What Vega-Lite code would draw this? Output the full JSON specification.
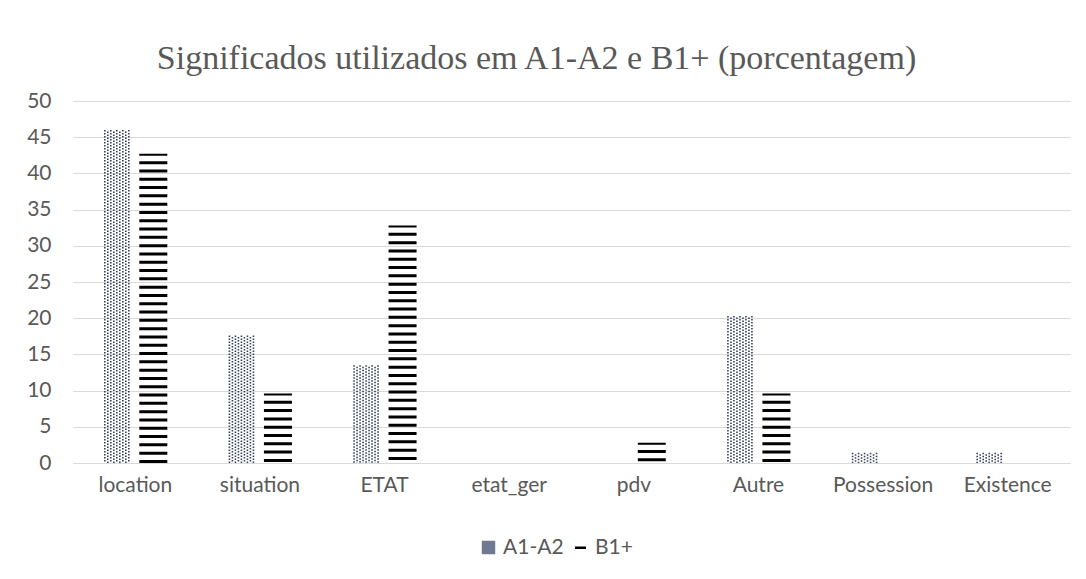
{
  "$schema": "https://vega.github.io/schema/vega-lite/v6.json",
  "autosize": "none",
  "width": 997,
  "height": 362,
  "padding": {"left": 73, "top": 101, "right": 16, "bottom": 116},
  "background": "white",
  "title": {
    "text": "Significados utilizados em A1-A2 e B1+ (porcentagem)",
    "font": "Liberation Serif",
    "fontSize": 34,
    "fontWeight": "normal",
    "color": "#595959",
    "anchor": "middle",
    "offset": 14,
    "dx": -35
  },
  "data": {
    "values": [
      {"cat": "location", "group": "A1-A2", "value": 46},
      {"cat": "location", "group": "B1+", "value": 42.7},
      {"cat": "situation", "group": "A1-A2", "value": 17.6},
      {"cat": "situation", "group": "B1+", "value": 9.6},
      {"cat": "ETAT", "group": "A1-A2", "value": 13.5},
      {"cat": "ETAT", "group": "B1+", "value": 32.8},
      {"cat": "etat_ger", "group": "A1-A2", "value": 0},
      {"cat": "etat_ger", "group": "B1+", "value": 0},
      {"cat": "pdv", "group": "A1-A2", "value": 0},
      {"cat": "pdv", "group": "B1+", "value": 2.8},
      {"cat": "Autre", "group": "A1-A2", "value": 20.3},
      {"cat": "Autre", "group": "B1+", "value": 9.6},
      {"cat": "Possession", "group": "A1-A2", "value": 1.4},
      {"cat": "Possession", "group": "B1+", "value": 0},
      {"cat": "Existence", "group": "A1-A2", "value": 1.4},
      {"cat": "Existence", "group": "B1+", "value": 0}
    ]
  },
  "encoding": {
    "x": {
      "field": "cat", "type": "nominal", "title": null,
      "scale": {"domain": ["location", "situation", "ETAT", "etat_ger", "pdv", "Autre", "Possession", "Existence"], "paddingInner": 0.48, "paddingOuter": 0.24},
      "axis": {"labelAngle": 0, "labelFont": "Lato", "labelFontSize": 21, "labelColor": "#595959", "ticks": false, "domainColor": "#d9d9d9", "labelPadding": 11}
    },
    "y": {
      "field": "value", "type": "quantitative", "title": null,
      "scale": {"domain": [0, 50], "nice": false},
      "axis": {"values": [0,5,10,15,20,25,30,35,40,45,50], "labelFont": "Lato", "labelFontSize": 21, "labelColor": "#595959", "ticks": false, "domain": false, "gridColor": "#d9d9d9", "labelPadding": 22}
    },
    "y2": {"datum": 0}
  },
  "layer": [
    {"transform": [{"filter": "datum.group == 'A1-A2' && datum.value > 0"}], "mark": {"type": "rule", "xOffset": -30.5, "strokeWidth": 1.6, "strokeDash": [1.5, 1.5], "color": "#34405a"}},
    {"transform": [{"filter": "datum.group == 'A1-A2' && datum.value > 0"}], "mark": {"type": "rule", "xOffset": -27.5, "strokeWidth": 1.6, "strokeDash": [1.5, 1.5], "strokeDashOffset": 1.5, "color": "#34405a"}},
    {"transform": [{"filter": "datum.group == 'A1-A2' && datum.value > 0"}], "mark": {"type": "rule", "xOffset": -24.5, "strokeWidth": 1.6, "strokeDash": [1.5, 1.5], "color": "#34405a"}},
    {"transform": [{"filter": "datum.group == 'A1-A2' && datum.value > 0"}], "mark": {"type": "rule", "xOffset": -21.5, "strokeWidth": 1.6, "strokeDash": [1.5, 1.5], "strokeDashOffset": 1.5, "color": "#34405a"}},
    {"transform": [{"filter": "datum.group == 'A1-A2' && datum.value > 0"}], "mark": {"type": "rule", "xOffset": -18.5, "strokeWidth": 1.6, "strokeDash": [1.5, 1.5], "color": "#34405a"}},
    {"transform": [{"filter": "datum.group == 'A1-A2' && datum.value > 0"}], "mark": {"type": "rule", "xOffset": -15.5, "strokeWidth": 1.6, "strokeDash": [1.5, 1.5], "strokeDashOffset": 1.5, "color": "#34405a"}},
    {"transform": [{"filter": "datum.group == 'A1-A2' && datum.value > 0"}], "mark": {"type": "rule", "xOffset": -12.5, "strokeWidth": 1.6, "strokeDash": [1.5, 1.5], "color": "#34405a"}},
    {"transform": [{"filter": "datum.group == 'A1-A2' && datum.value > 0"}], "mark": {"type": "rule", "xOffset": -9.5, "strokeWidth": 1.6, "strokeDash": [1.5, 1.5], "strokeDashOffset": 1.5, "color": "#34405a"}},
    {"transform": [{"filter": "datum.group == 'A1-A2' && datum.value > 0"}], "mark": {"type": "rule", "xOffset": -6.5, "strokeWidth": 1.6, "strokeDash": [1.5, 1.5], "color": "#34405a"}},
    {"transform": [{"filter": "datum.group == 'B1+' && datum.value > 0"}], "mark": {"type": "rule", "xOffset": 18, "strokeWidth": 28, "strokeDash": [3, 5.3], "strokeDashOffset": 1, "color": "black"}},
    {
      "mark": {"type": "point", "filled": true, "opacity": 0},
      "encoding": {
        "color": {"field": "group", "type": "nominal", "scale": {"domain": ["A1-A2", "B1+"], "range": ["#6f7a90", "black"]},
          "legend": {"orient": "none", "legendX": 405, "legendY": 436, "direction": "horizontal", "title": null, "labelFont": "Lato", "labelFontSize": 21, "labelColor": "#595959", "columnPadding": 6, "symbolSize": 120,
            "encode": {"symbols": {"update": {"opacity": {"value": 1}, "stroke": {"scale": "color", "field": "value"}, "strokeWidth": {"value": 2.5}}}}}},
        "shape": {"field": "group", "type": "nominal", "scale": {"domain": ["A1-A2", "B1+"], "range": ["square", "stroke"]}}
      }
    }
  ],
  "config": {"view": {"stroke": null}}
}
